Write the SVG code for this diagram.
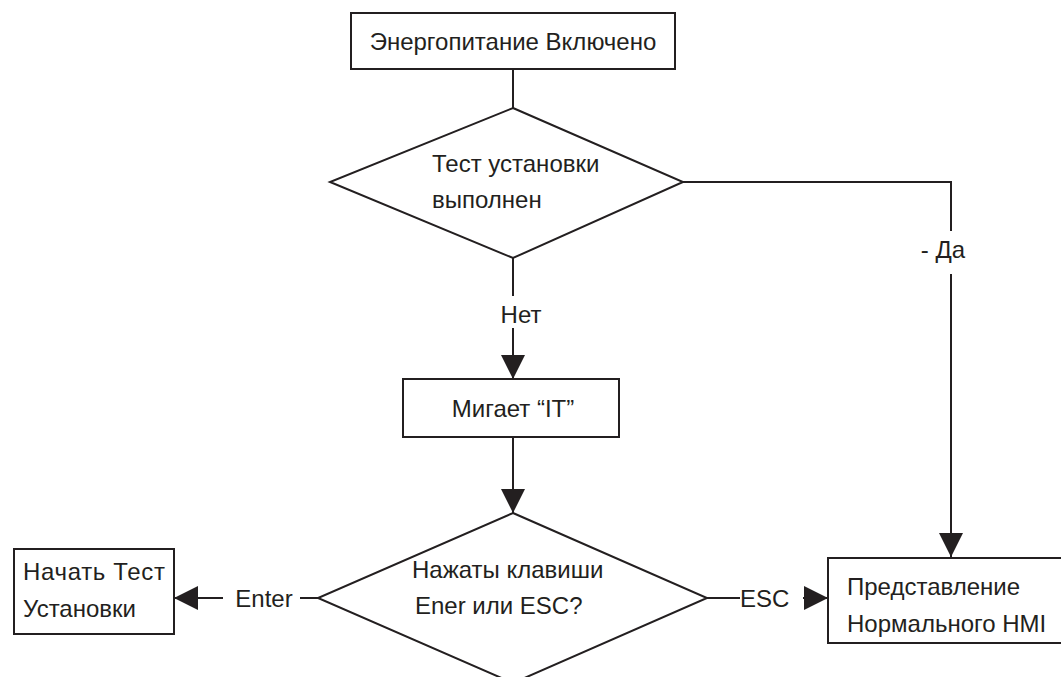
<svg xmlns="http://www.w3.org/2000/svg" width="1061" height="677" viewBox="0 0 1061 677">
<defs>
<style>
.s{fill:#fff;stroke:#231f20;stroke-width:2}
.l{fill:none;stroke:#231f20;stroke-width:2}
text{font-family:"Liberation Sans",Arial,sans-serif;font-size:24px;fill:#231f20}
.m{text-anchor:middle}
</style>
<marker id="ah" viewBox="0 0 24 24" markerWidth="24" markerHeight="24" refX="24" refY="12" orient="auto" markerUnits="userSpaceOnUse">
<path d="M0,0 L24,12 L0,24 Z" fill="#231f20"/>
</marker>
</defs>
<rect width="1061" height="677" fill="#fff"/>
<g id="connectors">
<line class="l" x1="513" y1="69" x2="513" y2="108"/>
<polyline class="l" points="683,182 951,182 951,231"/>
<line class="l" x1="951" y1="274" x2="951" y2="557" marker-end="url(#ah)"/>
<line class="l" x1="513" y1="258" x2="513" y2="296"/>
<line class="l" x1="513" y1="328" x2="513" y2="379" marker-end="url(#ah)"/>
<line class="l" x1="513" y1="437" x2="513" y2="513" marker-end="url(#ah)"/>
<line class="l" x1="318" y1="598" x2="300" y2="598"/>
<line class="l" x1="223" y1="598" x2="174" y2="598" marker-end="url(#ah)"/>
<line class="l" x1="707" y1="598" x2="740" y2="598"/>
<line class="l" x1="803" y1="598" x2="828" y2="598" marker-end="url(#ah)"/>
<text x="943" y="258" class="m">- Да</text>
<text x="521" y="323" class="m">Нет</text>
<text x="264" y="607" class="m">Enter</text>
<text x="740" y="607">ESC</text>
</g>
<g id="n1">
<rect class="s" x="351" y="13" width="324" height="56"/>
<text x="513" y="50" class="m">Энергопитание Включено</text>
</g>
<g id="n2">
<polygon class="s" points="513,108 683,182 513,258 330,182"/>
<text x="432" y="172">Тест установки</text>
<text x="432" y="208">выполнен</text>
</g>
<g id="n3">
<rect class="s" x="403" y="379" width="216" height="58"/>
<text x="513" y="417" class="m">Мигает “IT”</text>
</g>
<g id="n4">
<polygon class="s" points="513,513 707,598 513,683 318,598"/>
<text x="412" y="578">Нажаты клавиши</text>
<text x="415" y="614">Ener или ESC?</text>
</g>
<g id="n5">
<rect class="s" x="14" y="549" width="160" height="85"/>
<text x="23" y="580" textLength="142">Начать  Тест</text>
<text x="23" y="617">Установки</text>
</g>
<g id="n6">
<rect class="s" x="828" y="558" width="240" height="85"/>
<text x="847" y="595">Представление</text>
<text x="847" y="632">Нормального HMI</text>
</g>
</svg>
